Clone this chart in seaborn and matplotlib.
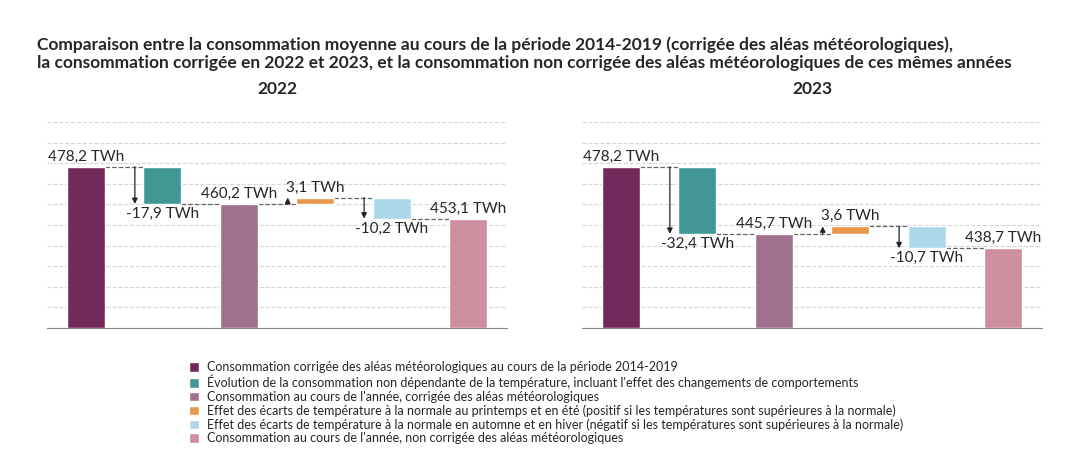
import numpy as np
import matplotlib.pyplot as plt
import seaborn as sns
from matplotlib.patches import Patch

# =========================================================
# DATA
# =========================================================

years = ["2022", "2023"]
base_values = [478.2, 478.2]
structural_change = [-17.9, -32.4]
corrected_values = [460.2, 445.7]
summer_effect = [3.1, 3.6]
winter_effect = [-10.2, -10.7]
final_values = [453.1, 438.7]

legend_labels = [
    "Consommation corrigée des aléas météorologiques au cours de la période 2014-2019",
    "Évolution de la consommation non dépendante de la température, incluant l'effet des changements de comportements",
    "Consommation au cours de l'année, corrigée des aléas météorologiques",
    "Effet des écarts de température à la normale au printemps et en été (positif si les températures sont supérieures à la normale)",
    "Effet des écarts de température à la normale en automne et en hiver (négatif si les températures sont supérieures à la normale)",
    "Consommation au cours de l'année, non corrigée des aléas météorologiques",
]
colors = ["#722a5b", "#409796", "#a0718c", "#e8974b", "#acd9ea", "#cd8f9f"]

sns.set_style("white")
plt.rcParams["font.family"] = ["Lato", "DejaVu Sans"]


def fmt(v):
    return f"{v:.1f}".replace(".", ",") + " TWh"


fig = plt.figure(figsize=(10.9, 4.67), dpi=100)

fig.text(37 / 1090, 1 - 45 / 467,
         "Comparaison entre la consommation moyenne au cours de la période 2014-2019 (corrigée des aléas météorologiques),",
         fontsize=12.5, fontweight="bold", va="center")
fig.text(37 / 1090, 1 - 63 / 467,
         "la consommation corrigée en 2022 et 2023, et la consommation non corrigée des aléas météorologiques de ces mêmes années",
         fontsize=12.5, fontweight="bold", va="center")

lefts = [47, 582]
for i, year in enumerate(years):
    ax = fig.add_axes([lefts[i] / 1090, 139 / 467, 460 / 1090, 206 / 467])

    b0 = base_values[i]
    c = corrected_values[i]
    s_top = c + summer_effect[i]
    f = final_values[i]

    bottoms = [400, c, 400, c, f, 400]
    tops = [b0, b0, c, s_top, s_top, f]
    x = np.arange(6)
    ax.bar(x, np.array(tops) - np.array(bottoms), bottom=bottoms,
           width=0.5, color=colors, zorder=3)

    # connectors
    levels = [b0, c, c, s_top, f]
    for k, lvl in enumerate(levels):
        ax.plot([k + 0.25, k + 0.75], [lvl, lvl], ls="--", lw=0.9,
                color="#666666", zorder=2)

    # arrows
    arrows = [(0.64, b0, c), (2.64, c, s_top), (3.64, s_top, f)]
    for ax_x, y0, y1 in arrows:
        ax.annotate("", xy=(ax_x, y1), xytext=(ax_x, y0),
                    arrowprops=dict(arrowstyle="-|>", color="#222222",
                                    lw=0.9, mutation_scale=8, shrinkA=0, shrinkB=0))

    # labels
    ax.text(0, b0 + 1.5, fmt(b0), ha="center", va="bottom", fontsize=11)
    ax.text(1, c - 1.5, fmt(structural_change[i]), ha="center", va="top", fontsize=11)
    ax.text(2, c + 1.5, fmt(c), ha="center", va="bottom", fontsize=11)
    ax.text(3, s_top + 1.5, fmt(summer_effect[i]), ha="center", va="bottom", fontsize=11)
    ax.text(4, f - 1.5, fmt(winter_effect[i]), ha="center", va="top", fontsize=11)
    ax.text(5, f + 1.5, fmt(f), ha="center", va="bottom", fontsize=11)

    ax.set_xlim(-0.51, 5.51)
    ax.set_ylim(400, 500)
    ax.set_yticks(np.arange(400, 501, 10))
    ax.yaxis.grid(True, ls="--", color="#d5d5d5", lw=0.8, zorder=0)
    ax.set_xticks([])
    ax.set_yticklabels([])
    ax.tick_params(left=False)
    for side in ["top", "right", "left"]:
        ax.spines[side].set_visible(False)
    ax.spines["bottom"].set_color("#888888")
    ax.set_title(year, fontsize=12.5, fontweight="bold", pad=20)

handles = [Patch(facecolor=col) for col in colors]
fig.legend(handles, legend_labels, loc="upper left",
           bbox_to_anchor=(178 / 1090, 1 - 350 / 467), frameon=False,
           fontsize=9, handlelength=0.8, handleheight=0.8,
           handletextpad=0.6, labelspacing=0.12)

fig.savefig("out.png", dpi=100)
